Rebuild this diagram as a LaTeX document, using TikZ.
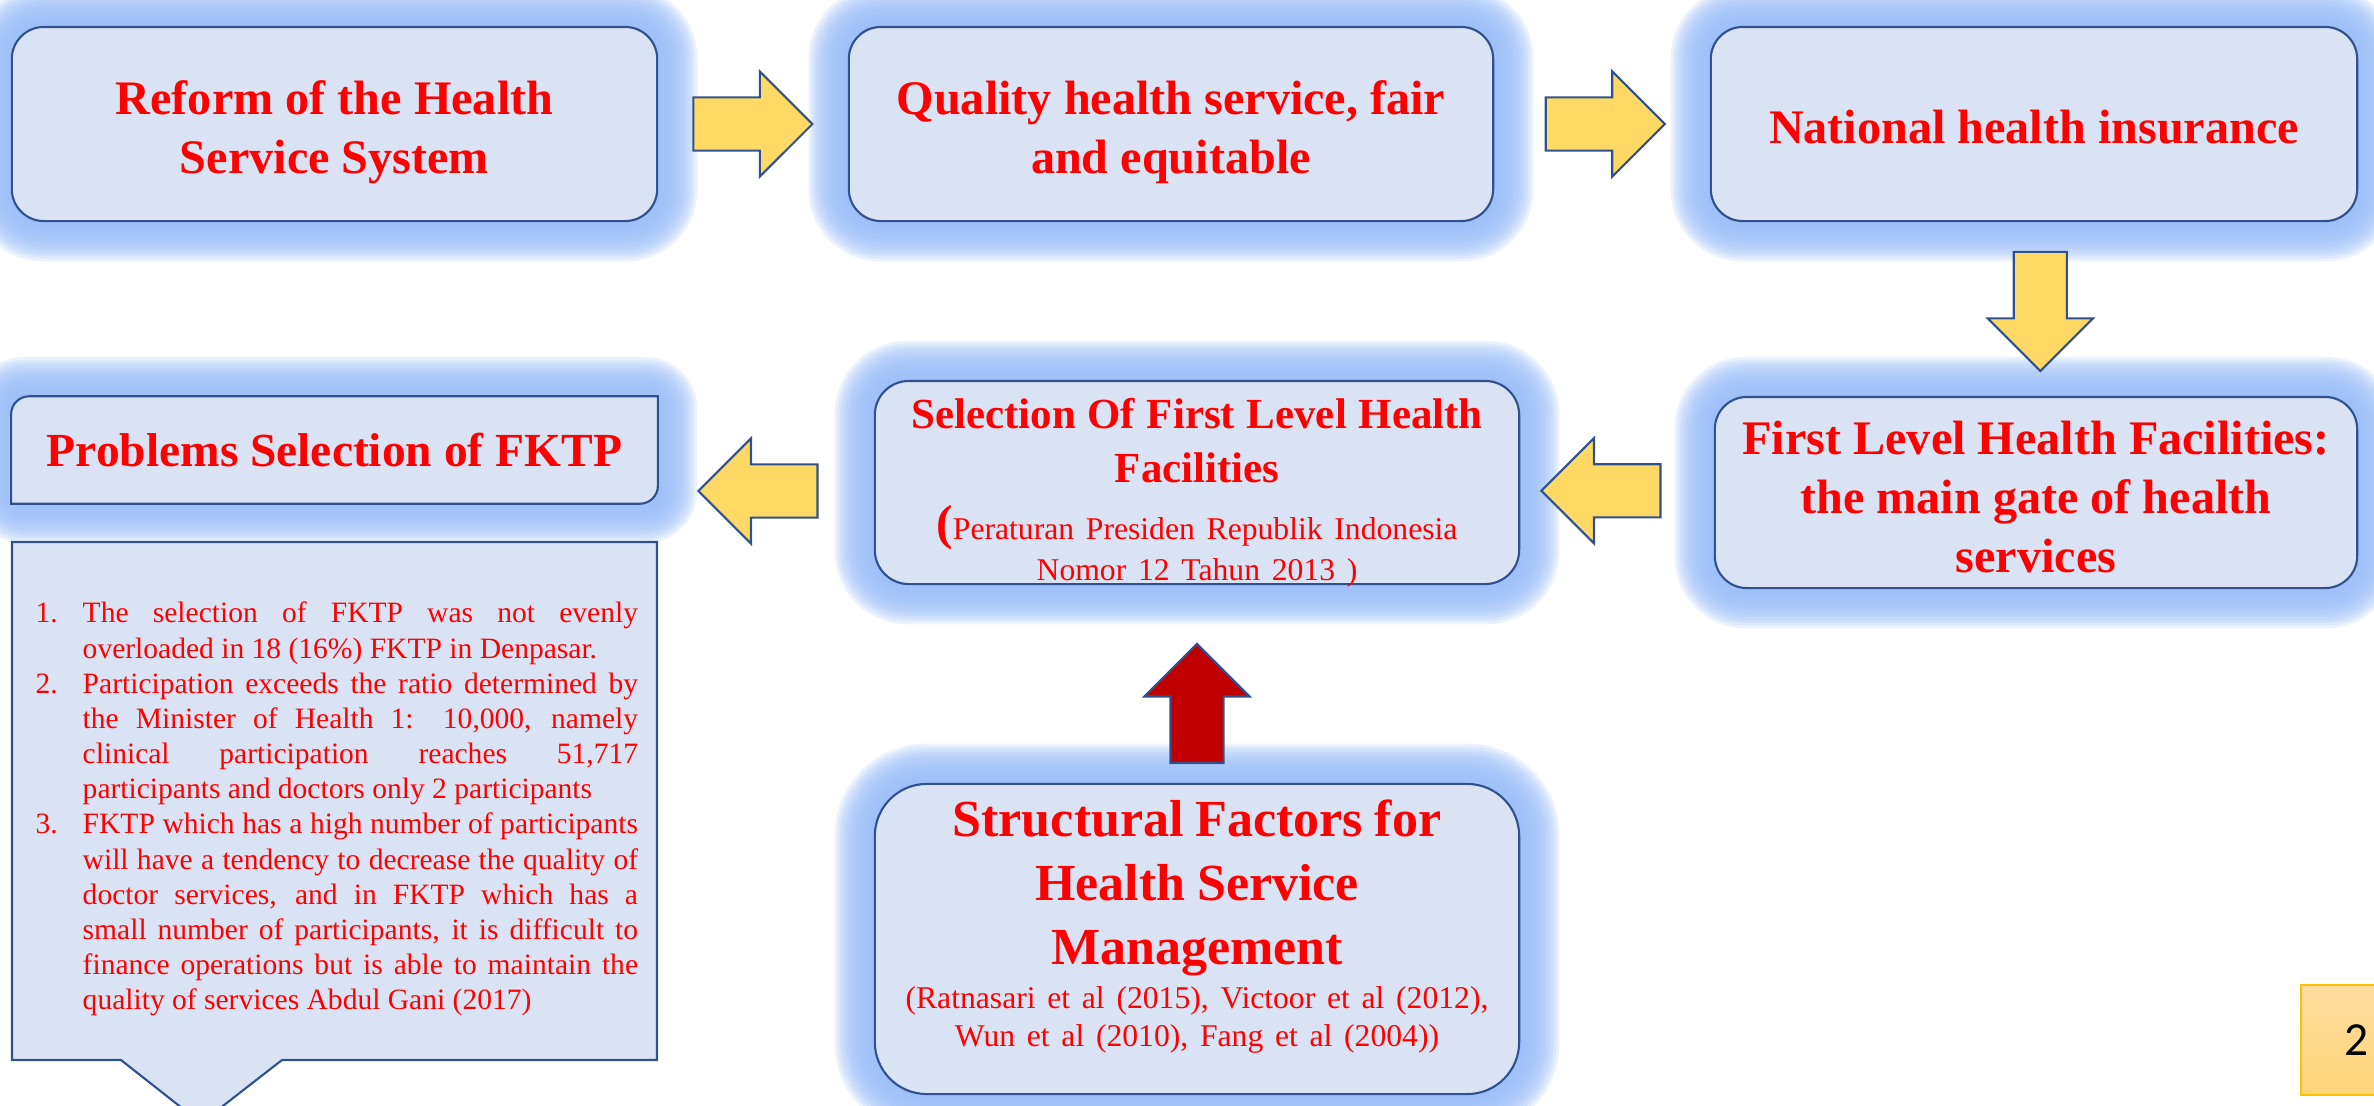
\documentclass[tikz,border=0pt]{standalone}
\usepackage{fontspec}
\setmainfont{Liberation Serif}
\newfontfamily\slidenumfont{Carlito}
\usepackage{xcolor}
\usepackage{tikz}
\usetikzlibrary{shapes.arrows, calc}

\definecolor{BoxFill}{RGB}{218, 227, 243}
\definecolor{BoxLine}{RGB}{47, 82, 143}
\definecolor{HaloBlue}{RGB}{155, 190, 248}
\definecolor{ArrowGold}{RGB}{255, 217, 102}
\definecolor{ArrowRed}{RGB}{192, 0, 0}
\definecolor{TextRed}{RGB}{255, 0, 0}
\definecolor{NumTop}{RGB}{254, 221, 158}
\definecolor{NumBottom}{RGB}{255, 213, 121}
\definecolor{NumLine}{RGB}{255, 192, 0}

\pgfdeclarelayer{background}
\pgfsetlayers{background,main}

\tikzset{
    box/.style={draw=BoxLine, line width=0.6pt, fill=BoxFill, text=TextRed, align=center, inner sep=2pt},
    headline/.style={font=\fontsize{13.7}{16.8}\selectfont\bfseries},
    blockarrow/.style={single arrow, draw=BoxLine, line width=0.6pt, minimum height=1.19cm,
        inner sep=0.255cm, single arrow head extend=0.26cm, anchor=tail},
    halo/.style={fill=HaloBlue, fill opacity=0.2},
    notes/.style={text=TextRed, text width=6.02cm, align=justify, inner sep=0pt,
        font=\fontsize{8.4}{10}\selectfont},
    pagebox/.style={draw=NumLine, line width=0.8pt, top color=NumTop, bottom color=NumBottom,
        minimum width=1.12cm, minimum height=1.10cm, font=\slidenumfont\fontsize{13.5}{16}\selectfont}
}

% 发光边：在背景层叠加半透明圆角矩形
\newcommand{\glowaround}[2]{%
    \begin{pgfonlayer}{background}
        \foreach \k [evaluate=\k as \rr using #2+\k*0.028] in {1,...,14}
            \fill[halo, rounded corners=\rr cm]
                ($(#1.south west)+(-2.8*\k,2.8*\k)$) rectangle ($(#1.north east)+(2.8*\k,-2.8*\k)$);
    \end{pgfonlayer}}

% 编号列表项（悬挂缩进）
\newcommand{\pitem}[1]{\par\hangindent=0.47cm\hangafter=1\noindent\makebox[0.47cm][l]{#1}}
% 首行加高，使文字下移
\newcommand{\lift}[1]{\rule{0pt}{#1}}

\begin{document}
\begin{tikzpicture}[x=0.01cm, y=-0.01cm]
    \useasboundingbox (0,0) rectangle (2374,1105);

    % 第一行
    \node[box, headline, rounded corners=0.32cm, minimum width=6.45cm, minimum height=1.94cm] (reform)
        at (334.5,124) {\lift{14.5pt}Reform of the Health\\Service System};
    \node[box, headline, rounded corners=0.32cm, minimum width=6.44cm, minimum height=1.94cm] (quality)
        at (1171,124) {\lift{14.5pt}Quality health service, fair\\and equitable};
    \node[box, headline, rounded corners=0.32cm, minimum width=6.46cm, minimum height=1.94cm] (insurance)
        at (2034,124) {\lift{11.2pt}National health insurance};

    % 第二行
    \node[box, headline, rounded corners=0.32cm, minimum width=6.42cm, minimum height=1.91cm] (gate)
        at (2036,492.5) {\lift{12pt}First Level Health Facilities:\\the main gate of health\\services};
    \node[box, rounded corners=0.34cm, minimum width=6.44cm, minimum height=2.03cm, text width=6.2cm] (select)
        at (1197,482.5) {%
        {\fontsize{12.2}{15.4}\selectfont\bfseries Selection Of First Level Health\\Facilities\par}
        \vspace{4.5pt}
        {\fontsize{9}{11.7}\selectfont{\fontsize{14}{11.7}\selectfont\bfseries(}Peraturan Presiden Republik Indonesia\\Nomor 12 Tahun 2013 )\par}
        \vspace{-6pt}};
    \node[text=TextRed, font=\fontsize{13.5}{16}\selectfont\bfseries, minimum width=6.45cm, minimum height=1.06cm] (prob)
        at (334.5,450) {Problems Selection of FKTP};

    % 第三行
    \node[box, rounded corners=0.52cm, minimum width=6.44cm, minimum height=3.10cm, text width=6.2cm] (factors)
        at (1197,939) {%
        {\fontsize{14.8}{18.2}\selectfont\bfseries Structural Factors for\\Health Service\\Management\par}
        \vspace{1.7pt}
        {\fontsize{9}{10.8}\selectfont (Ratnasari et al (2015), Victoor et al (2012),\\Wun et al (2010), Fang et al (2004))\par}
        \vspace{7pt}};

    % 发光效果
    \glowaround{reform}{0.32}
    \glowaround{quality}{0.32}
    \glowaround{insurance}{0.32}
    \glowaround{gate}{0.32}
    \glowaround{select}{0.34}
    \glowaround{factors}{0.52}
    \glowaround{prob}{0.12}
    \begin{pgfonlayer}{background}
        \draw[draw=BoxLine, line width=0.6pt, fill=BoxFill]
            ([yshift=-0.18cm]prob.north west) arc (180:90:0.18cm) -- (prob.north east)
            -- ([yshift=0.18cm]prob.south east) arc (0:-90:0.18cm) -- (prob.south west) -- cycle;
    \end{pgfonlayer}

    % 箭头（以箭尾定位）
    \node[blockarrow, fill=ArrowGold] (a1) at ($(reform.east)!0.18!(quality.west)$) {};
    \node[blockarrow, fill=ArrowGold] (a2) at ($(quality.east)!0.234!(insurance.west)$) {};
    \node[blockarrow, fill=ArrowGold, shape border rotate=270] (a3) at ($(insurance.south)!0.165!(gate.north)+(6,0)$) {};
    \node[blockarrow, fill=ArrowGold, shape border rotate=180] (a4) at ($(gate.west)!0.27!(select.east)+(0,1)$) {};
    \node[blockarrow, fill=ArrowGold, shape border rotate=180] (a5) at ($(select.west)!0.256!(prob.east |- select.west)+(0,8.5)$) {};
    \node[blockarrow, fill=ArrowRed, shape border rotate=90] (a6) at ($(factors.north)!0.095!(select.south)$) {};

    % 问题说明框
    \draw[draw=BoxLine, line width=0.6pt, fill=BoxFill]
        (12,542) -- (657,542) -- (657,1060) -- (282,1060) -- (201,1123) -- (121,1060) -- (12,1060) -- cycle;
    \node[notes, anchor=north west] (notelist) at (35,587) {%
        \tolerance=10000
        \pitem{1.}The selection of FKTP was not evenly\linebreak overloaded in 18 (16\%) FKTP in Denpasar.
        \pitem{2.}Participation exceeds the ratio determined by\linebreak the Minister of Health 1: 10,000, namely\linebreak clinical participation reaches 51,717\linebreak participants and doctors only 2 participants
        \pitem{3.}FKTP which has a high number of participants\linebreak will have a tendency to decrease the quality of\linebreak doctor services, and in FKTP which has a\linebreak small number of participants, it is difficult to\linebreak finance operations but is able to maintain the\linebreak quality of services Abdul Gani (2017)\par};

    % 页码
    \node[pagebox] (pagenum) at (2357,1040) {2};
\end{tikzpicture}
\end{document}
